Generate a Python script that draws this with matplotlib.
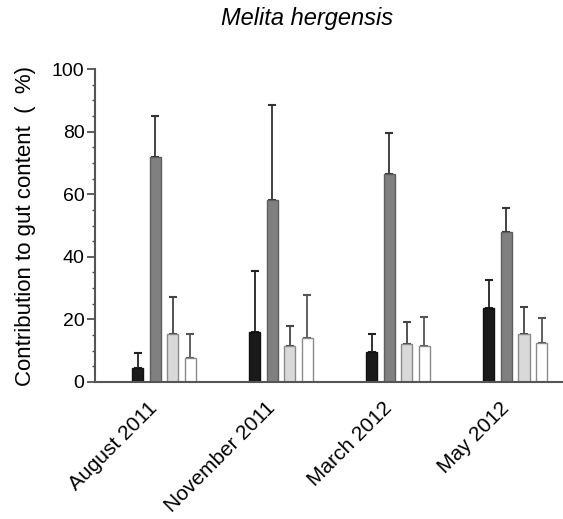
import matplotlib
matplotlib.use("Agg")
import matplotlib.pyplot as plt
import matplotlib.transforms as mtransforms
import numpy as np
from matplotlib.ticker import MultipleLocator

plt.rcParams['font.family'] = ['Liberation Sans', 'DejaVu Sans']

categories = ["August 2011", "November 2011", "March 2012", "May 2012"]
series_black = [4.6, 16.0, 9.5, 23.7]
series_black_err = [4.6, 19.5, 5.8, 8.9]
series_dark = [72.0, 58.1, 66.4, 47.8]
series_dark_err = [13.1, 30.3, 13.1, 7.8]
series_light = [15.3, 11.4, 12.0, 15.3]
series_light_err = [11.7, 6.4, 7.2, 8.7]
series_white = [7.8, 13.9, 11.4, 12.6]
series_white_err = [7.6, 14.0, 9.3, 7.9]
yticks = [0, 20, 40, 60, 80, 100]

fig = plt.figure(figsize=(5.63, 5.19), dpi=100)
ax = fig.add_axes([95/563, 1-382/519, (562-95)/563, (382-69)/519])

x = np.arange(len(categories))
offsets = [-0.225, -0.075, 0.075, 0.225]
width = 0.095
specs = [
    (series_black, series_black_err, '#1a1a1a', '#111111', '#222222'),
    (series_dark, series_dark_err, '#808080', '#5e5e5e', '#333333'),
    (series_light, series_light_err, '#d9d9d9', '#8a8a8a', '#444444'),
    (series_white, series_white_err, '#ffffff', '#8a8a8a', '#555555'),
]
for (vals, errs, fc, ec, errc), off in zip(specs, offsets):
    ax.bar(x + off, vals, width=width, color=fc, edgecolor=ec, linewidth=1.0, zorder=2)
    ax.errorbar(x + off, vals, yerr=[np.zeros(len(vals)), errs], fmt='none',
                ecolor=errc, elinewidth=1.3, capsize=3.2, capthick=1.5, zorder=1)

ax.set_xlim(-0.59, 3.40)
ax.set_ylim(0, 100)
ax.set_yticks(yticks)
ax.yaxis.set_minor_locator(MultipleLocator(5))
ax.set_xticks(x)
ax.set_xticklabels(categories, rotation=45, ha='right', va='top', rotation_mode='anchor', fontsize=15)
ax.tick_params(axis='x', length=0, pad=12)
offset = mtransforms.ScaledTranslation(-16/100, 0, fig.dpi_scale_trans)
for lab in ax.get_xticklabels():
    lab.set_transform(lab.get_transform() + offset)
ax.tick_params(axis='y', which='major', length=6, width=1.2, color='#444444', labelsize=14, pad=1.5)
ax.tick_params(axis='y', which='minor', length=2.5, width=1.0, color='#444444')
for s in ['top', 'right']:
    ax.spines[s].set_visible(False)
for s in ['left', 'bottom']:
    ax.spines[s].set_color('#555555')
    ax.spines[s].set_linewidth(1.5)

ax.set_ylabel("Contribution to gut content  (  %)", fontsize=16)
ax.yaxis.set_label_coords((36-95)/467, 0.5)
fig.text(307/563, 1-19/519, "Melita hergensis", style='italic', fontsize=17, ha='center', va='center')

fig.savefig("out.png", dpi=100, facecolor='white')
